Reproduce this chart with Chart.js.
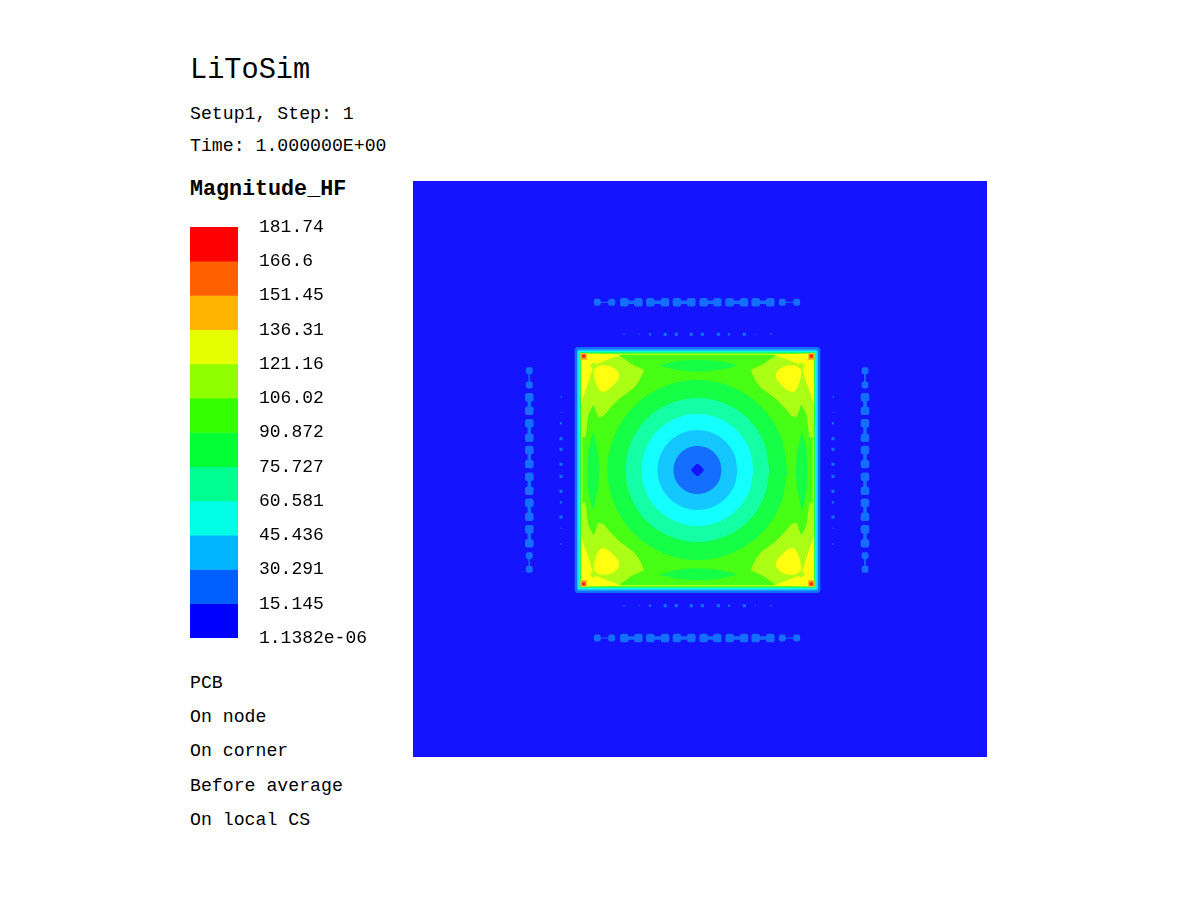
<!DOCTYPE html>
<html lang="en">
<head>
<meta charset="UTF-8">
<title>LiToSim - Magnitude_HF</title>
<script src="https://cdn.jsdelivr.net/npm/chart.js"></script>
<style>
  html, body { margin:0; padding:0; background:#fff; }
  body { width:1200px; height:900px; position:relative; overflow:hidden; font-family:"Liberation Mono", monospace; color:#000; }
  .t { position:absolute; left:190px; white-space:pre; font-size:18.2px; line-height:24px; height:24px; }
  .big { font-size:28.6px; line-height:36px; height:36px; }
  .bold { font-weight:bold; font-size:21.7px; }
  canvas { position:absolute; }
  #field { left:413px; top:181px; }
  #bar { left:190px; top:207px; }
</style>
</head>
<body>
<div class="t big" style="top:53px">LiToSim</div>
<div class="t" style="top:102px">Setup1, Step: 1</div>
<div class="t" style="top:134px">Time: 1.000000E+00</div>
<div class="t bold" style="top:178px">Magnitude_HF</div>
<div class="t" style="top:671px">PCB</div>
<div class="t" style="top:705px">On node</div>
<div class="t" style="top:739px">On corner</div>
<div class="t" style="top:774px">Before average</div>
<div class="t" style="top:808px">On local CS</div>

<canvas id="bar" width="200" height="451"></canvas>
<canvas id="field" width="574" height="576"></canvas>

<script>
// colour bar
const levels = [181.74, 166.6, 151.45, 136.31, 121.16, 106.02, 90.872, 75.727, 60.581, 45.436, 30.291, 15.145, 1.1382e-06];
const levelLabels = ['181.74', '166.6', '151.45', '136.31', '121.16', '106.02', '90.872', '75.727', '60.581', '45.436', '30.291', '15.145', '1.1382e-06'];
const barColors = ['#ff0000', '#ff6000', '#ffb400', '#e6ff00', '#90ff00', '#33ff00', '#00ff33', '#00ff90', '#00ffe6', '#00b4ff', '#0060ff', '#0000ff'];

// contour outlines (model units, origin at plate centre)
const plateB2 = [[-122.8,-121],[-121,-123],[121,-123],[122.8,-121],[122.8,121],[121,123],[-121,123],[-122.8,121]];
const plateB3 = [[-120.5,-119],[-119,-120.5],[119,-120.5],[120.5,-119],[120.5,119],[119,120.5],[-119,120.5],[-120.5,119]];
const plateCy = [[-119,-119],[119,-119],[119,119],[-119,119]];
const plateSp = [[-118.2,-118.2],[118.2,-118.2],[118.2,118.2],[-118.2,118.2]];
const plateG1 = [[-117.5,-117.5],[117.5,-117.5],[117.5,117.5],[-117.5,117.5]];
const plateYg = [[-116.6,-116.6],[116.6,-116.6],[116.6,116.6],[-116.6,116.6]];
const plateG2 = [[-115,-115],[115,-115],[115,115],[-115,115]];

const lensTop = [[-39,-104.5],[-20,-109],[0,-110],[20,-109],[39,-104.5],[20,-100],[0,-98.3],[-20,-100]];
const lensBottom = [[-39,104.5],[-20,100],[0,98.3],[20,100],[39,104.5],[20,109],[0,110],[-20,109]];
const lensLeft = [[-104.5,-39],[-100,-20],[-98.3,0],[-100,20],[-104.5,39],[-109,20],[-110,0],[-109,-20]];
const lensRight = [[104.5,-39],[109,-20],[110,0],[109,20],[104.5,39],[100,20],[98.3,0],[100,-20]];

const cornerTL = [[-116,-116],[-77.5,-114],[-66,-106],[-53.5,-100],[-59,-88],[-64,-81.7],[-77.5,-71.7],[-87.5,-61.7],[-94,-54],[-99,-52.7],[-104,-65],[-109,-55],[-112,-33],[-116,-33]];
const cornerTR = [[116,-116],[77.5,-114],[66,-106],[53.5,-100],[59,-88],[64,-81.7],[77.5,-71.7],[87.5,-61.7],[94,-54],[99,-52.7],[104,-65],[109,-55],[112,-33],[116,-33]];
const cornerBL = [[-116,116],[-77.5,114],[-66,106],[-53.5,100],[-59,88],[-64,81.7],[-77.5,71.7],[-87.5,61.7],[-94,54],[-99,52.7],[-104,65],[-109,55],[-112,33],[-116,33]];
const cornerBR = [[116,116],[77.5,114],[66,106],[53.5,100],[59,88],[64,81.7],[77.5,71.7],[87.5,61.7],[94,54],[99,52.7],[104,65],[109,55],[112,33],[116,33]];

const wedgeTL = [[-116.5,-116.5],[-75,-115.5],[-79,-114.3],[-91,-110],[-99,-106.7],[-104,-104],[-106,-98],[-107.5,-92],[-111,-82],[-114.5,-72],[-116.5,-65]];
const wedgeTR = [[116.5,-116.5],[75,-115.5],[79,-114.3],[91,-110],[99,-106.7],[104,-104],[106,-98],[107.5,-92],[111,-82],[114.5,-72],[116.5,-65]];
const wedgeBL = [[-116.5,116.5],[-75,115.5],[-79,114.3],[-91,110],[-99,106.7],[-104,104],[-106,98],[-107.5,92],[-111,82],[-114.5,72],[-116.5,65]];
const wedgeBR = [[116.5,116.5],[75,115.5],[79,114.3],[91,110],[99,106.7],[104,104],[106,98],[107.5,92],[111,82],[114.5,72],[116.5,65]];

const blobTL = [[-104,-100],[-98,-104.5],[-88,-104],[-80,-99],[-78.5,-93],[-82,-87],[-91,-79],[-96.5,-78.5],[-100,-83],[-103,-92],[-104,-100]];
const blobTR = [[104,-100],[98,-104.5],[88,-104],[80,-99],[78.5,-93],[82,-87],[91,-79],[96.5,-78.5],[100,-83],[103,-92],[104,-100]];
const blobBL = [[-104,100],[-98,104.5],[-88,104],[-80,99],[-78.5,93],[-82,87],[-91,79],[-96.5,78.5],[-100,83],[-103,92],[-104,100]];
const blobBR = [[104,100],[98,104.5],[88,104],[80,99],[78.5,93],[82,87],[91,79],[96.5,78.5],[100,83],[103,92],[104,100]];

const spotTL = [[-107.5,-104],[-104,-107.5],[-100.5,-104],[-104,-100.5]];
const spotTR = [[107.5,-104],[104,-107.5],[100.5,-104],[104,-100.5]];
const spotBL = [[-107.5,104],[-104,107.5],[-100.5,104],[-104,100.5]];
const spotBR = [[107.5,104],[104,107.5],[100.5,104],[104,100.5]];

const hot1 = [
  [[-117,-117],[-110.5,-117],[-110.5,-110],[-117,-110]],
  [[117,-117],[110.5,-117],[110.5,-110],[117,-110]],
  [[-117,117],[-110.5,117],[-110.5,110],[-117,110]],
  [[117,117],[110.5,117],[110.5,110],[117,110]]
];
const hot2 = [
  [[-116,-116],[-111.7,-116],[-111.7,-111.5],[-116,-111.5]],
  [[116,-116],[111.7,-116],[111.7,-111.5],[116,-111.5]],
  [[-116,116],[-111.7,116],[-111.7,111.5],[-116,111.5]],
  [[116,116],[111.7,116],[111.7,111.5],[116,111.5]]
];
const hot3 = [
  [[-115,-115],[-112.7,-115],[-112.7,-112.7],[-115,-112.7]],
  [[115,-115],[112.7,-115],[112.7,-112.7],[115,-112.7]],
  [[-115,115],[-112.7,115],[-112.7,112.7],[-115,112.7]],
  [[115,115],[112.7,115],[112.7,112.7],[115,112.7]]
];

const disk90 = [[90,0],[83,34.5],[63.6,63.6],[34.5,83],[0,90],[-34.5,83],[-63.6,63.6],[-83,34.5],[-90,0],[-83,-34.5],[-63.6,-63.6],[-34.5,-83],[0,-90],[34.5,-83],[63.6,-63.6],[83,-34.5],[90,0]];
const disk72 = [[72,0],[66.5,27.5],[51,51],[27.5,66.5],[0,72],[-27.5,66.5],[-51,51],[-66.5,27.5],[-72,0],[-66.5,-27.5],[-51,-51],[-27.5,-66.5],[0,-72],[27.5,-66.5],[51,-51],[66.5,-27.5],[72,0]];
const disk56 = [[56,0],[51.7,21.4],[39.6,39.6],[21.4,51.7],[0,56],[-21.4,51.7],[-39.6,39.6],[-51.7,21.4],[-56,0],[-51.7,-21.4],[-39.6,-39.6],[-21.4,-51.7],[0,-56],[21.4,-51.7],[39.6,-39.6],[51.7,-21.4],[56,0]];
const disk40 = [[40,0],[37,15.3],[28.3,28.3],[15.3,37],[0,40],[-15.3,37],[-28.3,28.3],[-37,15.3],[-40,0],[-37,-15.3],[-28.3,-28.3],[-15.3,-37],[0,-40],[15.3,-37],[28.3,-28.3],[37,-15.3],[40,0]];
const disk24 = [[24,0],[22.2,9.2],[17,17],[9.2,22.2],[0,24],[-9.2,22.2],[-17,17],[-22.2,9.2],[-24,0],[-22.2,-9.2],[-17,-17],[-9.2,-22.2],[0,-24],[9.2,-22.2],[17,-17],[22.2,-9.2],[24,0]];
const diamond = [[6,-1],[6,1],[1,6],[-1,6],[-6,1],[-6,-1],[-1,-6],[1,-6]];

// stray spots outside the plate
const rowX = [[-100.2,-85.8],[-73.2,-59.2],[-47.2,-32.5],[-20.5,-6.2],[6.2,19.8],[32.2,46.5],[58.2,72.8],[84.8,99.2]];
const colY = [[-99.3,-85],[-72.7,-59.3],[-46.7,-32.3],[-20,-6],[6.7,20.7],[32.7,46.7],[59.3,73.3],[85.7,99.3]];
const dotRowX = [-73.5,-58.2,-47.5,-32.2,-21.2,-6.2,4.8,20.8,31.5,46.8,57.5,73.5];
const dotColY = [-73.3,-57.7,-46.7,-31.3,-20.7,-5.7,6.3,21.3,32.3,47,58.3,74];
const rowTop = -167.7, rowBottom = 168, colLeft = -168.2, colRight = 167.5;
const dotTop = -135.7, dotBottom = 135.7, dotLeft = -136.5, dotRight = 135.5;
const dotSize = [1, 0.7, 1.6, 2.2, 2.2, 2.2, 2.2, 2.2, 1.6, 2.2, 0.7, 1];

const BG = '#1414ff', B2 = '#146eff', B3 = '#14c8ff', CY = '#14ffff', SP = '#14ffa5', G1 = '#14ff46', G2 = '#46ff14', YG = '#aaff14', YE = '#ffff0f';

function poly(points, color, tension) {
  return {
    data: points, showLine: true, fill: 'shape', backgroundColor: color,
    borderWidth: 0, pointRadius: 0, tension: tension || 0
  };
}
function dumbbell(points, w, r) {
  return { data: points, showLine: true, fill: false, borderColor: B2, backgroundColor: B2, borderWidth: w, pointStyle: 'rectRounded', pointRadius: r, pointBorderWidth: 0 };
}
function dots(points) {
  return { data: points, showLine: false, backgroundColor: B2, pointStyle: 'rect', pointRadius: dotSize, pointBorderWidth: 0 };
}

const layers = [];
layers.push(poly([[-284.5,-289],[289.5,-289],[289.5,287],[-284.5,287]], BG));
[[plateB2,B2],[plateB3,B3],[plateCy,CY],[plateSp,SP],[plateG1,G1],[plateYg,YG],[plateG2,G2]].forEach(p => layers.push(poly(p[0], p[1])));
[lensTop, lensBottom, lensLeft, lensRight].forEach(p => layers.push(poly(p, G1, 0.25)));
[cornerTL, cornerTR, cornerBL, cornerBR].forEach(p => layers.push(poly(p, YG, 0.1)));
[wedgeTL, wedgeTR, wedgeBL, wedgeBR].forEach(p => layers.push(poly(p, YE)));
[blobTL, blobTR, blobBL, blobBR].forEach(p => layers.push(poly(p, YE, 0.3)));
[spotTL, spotTR, spotBL, spotBR].forEach(p => layers.push(poly(p, YG, 0.3)));
hot1.forEach(p => layers.push(poly(p, '#ffc014')));
hot2.forEach(p => layers.push(poly(p, '#ff6a14')));
hot3.forEach(p => layers.push(poly(p, '#ff1414')));
[[disk90,G1],[disk72,SP],[disk56,CY],[disk40,B3],[disk24,B2]].forEach(p => layers.push(poly(p[0], p[1], 0.34)));
layers.push(poly(diamond, BG));

rowX.forEach((pair, i) => {
  const edge = i === 0 || i === rowX.length - 1;
  layers.push(dumbbell(pair.map(x => [x, rowTop]), edge ? 1 : 3.5, edge ? 4 : 5));
  layers.push(dumbbell(pair.map(x => [x, rowBottom]), edge ? 1 : 3.5, edge ? 4 : 5));
});
colY.forEach((pair, i) => {
  const edge = i === 0 || i === colY.length - 1;
  layers.push(dumbbell(pair.map(y => [colLeft, y]), edge ? 1 : 3.5, edge ? 4 : 5));
  layers.push(dumbbell(pair.map(y => [colRight, y]), edge ? 1 : 3.5, edge ? 4 : 5));
});
layers.push(dots(dotRowX.map(x => [x, dotTop])));
layers.push(dots(dotRowX.map(x => [x, dotBottom])));
layers.push(dots(dotColY.map(y => [dotLeft, y])));
layers.push(dots(dotColY.map(y => [dotRight, y])));

// chart.js paints dataset 0 last, so the stack goes in reversed
new Chart(document.getElementById('field'), {
  type: 'scatter',
  data: { datasets: layers.reverse() },
  options: {
    responsive: false, animation: false, devicePixelRatio: 1,
    layout: { autoPadding: false },
    plugins: { legend: { display: false }, tooltip: { enabled: false } },
    scales: {
      x: { type: 'linear', display: false, min: -284.5, max: 289.5 },
      y: { type: 'linear', display: false, reverse: true, min: -289, max: 287 }
    }
  }
});

new Chart(document.getElementById('bar'), {
  type: 'bar',
  data: {
    labels: ['Magnitude_HF'],
    datasets: barColors.map((c, i) => ({ data: [[levels[i + 1], levels[i]]], backgroundColor: c }))
  },
  options: {
    responsive: false, animation: false, devicePixelRatio: 1,
    grouped: false, barPercentage: 1, categoryPercentage: 1,
    layout: { padding: { top: 20, bottom: 20 } },
    plugins: { legend: { display: false }, tooltip: { enabled: false } },
    scales: {
      x: { display: false },
      y: {
        position: 'right', min: levels[levels.length - 1], max: levels[0],
        grid: { display: false, drawTicks: false }, border: { display: false },
        afterBuildTicks: s => { s.ticks = levels.map(v => ({ value: v })); },
        afterFit: s => { s.width = 152; s.paddingTop = 0; s.paddingBottom = 0; },
        ticks: {
          autoSkip: false, padding: 21, color: '#000', crossAlign: 'near',
          font: { family: '"Liberation Mono", monospace', size: 18 },
          callback: (v, i) => levelLabels[i]
        }
      }
    }
  }
});
</script>
</body>
</html>
